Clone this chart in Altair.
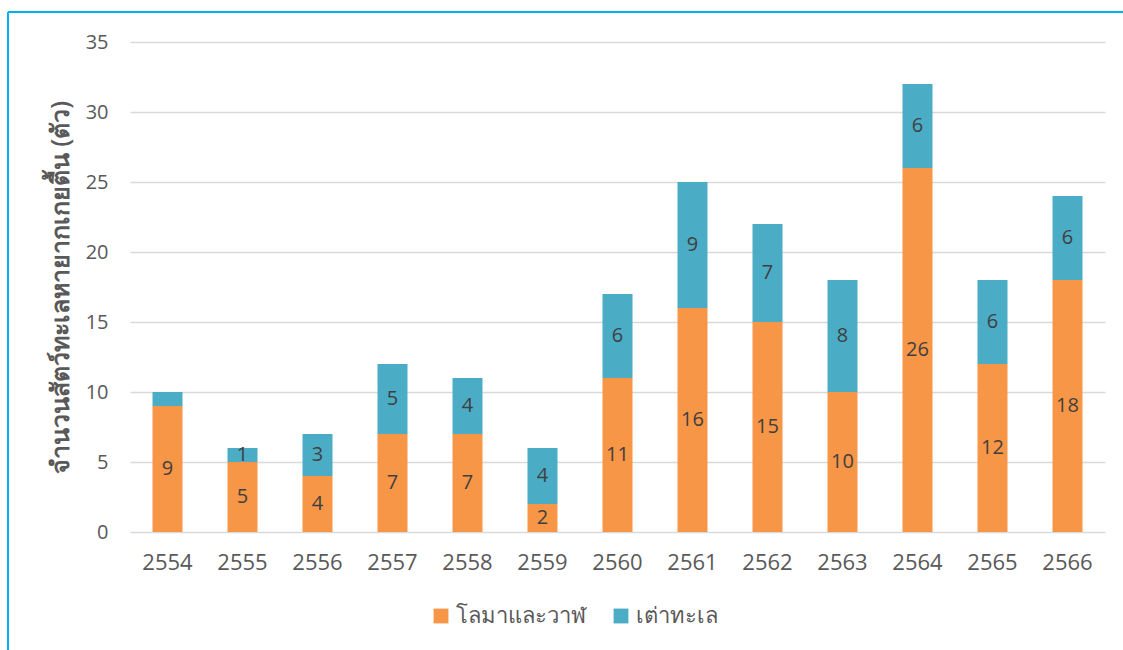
import altair as alt
import pandas as pd

years = ["2554", "2555", "2556", "2557", "2558", "2559", "2560",
         "2561", "2562", "2563", "2564", "2565", "2566"]
dolphins_whales = [9, 5, 4, 7, 7, 2, 11, 16, 15, 10, 26, 12, 18]
sea_turtles = [1, 1, 3, 5, 4, 4, 6, 9, 7, 8, 6, 6, 6]
series_names = ["โลมาและวาฬ", "เต่าทะเล"]
series_colors = ["#F79646", "#4BACC6"]
hidden_labels = [("2554", "เต่าทะเล")]

rows = []
for i, y in enumerate(years):
    rows.append({"year": y, "series": series_names[0], "value": dolphins_whales[i], "ord": 0,
                 "show": (y, series_names[0]) not in hidden_labels})
    rows.append({"year": y, "series": series_names[1], "value": sea_turtles[i], "ord": 1,
                 "show": (y, series_names[1]) not in hidden_labels})
df = pd.DataFrame(rows)

FONT = "Open Sans"

base = alt.Chart(df).transform_stack(
    stack="value", groupby=["year"], as_=["v0", "v1"], sort=[alt.SortField("ord", "ascending")]
).transform_calculate(mid="(datum.v0 + datum.v1) / 2")

x = alt.X("year:N", sort=years, title=None,
          scale=alt.Scale(paddingInner=0.6, paddingOuter=0.3),
          axis=alt.Axis(labelFontSize=22, labelColor="#595959", labelPadding=20,
                        ticks=False, domain=False, labelAngle=0, labelFont=FONT))

bars = base.mark_bar().encode(
    x=x,
    y=alt.Y("v0:Q", title="จำนวนสัตว์ทะเลหายากเกยตื้น (ตัว)",
            scale=alt.Scale(domain=[0, 35]),
            axis=alt.Axis(values=[0, 5, 10, 15, 20, 25, 30, 35], labelFontSize=20,
                          labelColor="#595959", labelPadding=22, ticks=False, domain=False,
                          gridColor="#D9D9D9", gridWidth=1.5, titleFontSize=25,
                          titleColor="#595959", titleFontWeight=600, titlePadding=12,
                          labelFont=FONT, titleFont=FONT)),
    y2="v1:Q",
    color=alt.Color("series:N", sort=series_names,
                    scale=alt.Scale(domain=series_names, range=series_colors),
                    legend=alt.Legend(title=None, orient="none", direction="horizontal",
                                      legendX=300, legendY=563, symbolType="square",
                                      symbolSize=220, symbolStrokeWidth=0, labelFontSize=22,
                                      labelColor="#595959", columnPadding=24, labelFont=FONT)),
)

labels = base.transform_filter("datum.show").mark_text(
    fontSize=20, color="#404040", font=FONT, baseline="middle"
).encode(x=alt.X("year:N", sort=years), y=alt.Y("mid:Q"), text="value:Q")

border_left = alt.Chart(pd.DataFrame({"a": [0]})).mark_rule(color="#00B0F0", strokeWidth=2).encode(
    x=alt.value(-122), y=alt.value(-30), y2=alt.value(620))
border_top = alt.Chart(pd.DataFrame({"a": [0]})).mark_rule(color="#00B0F0", strokeWidth=2).encode(
    x=alt.value(-122), x2=alt.value(1000), y=alt.value(-30))

chart = alt.layer(bars, labels, border_left, border_top).properties(
    width=975, height=490,
    autosize=alt.AutoSizeParams(type="none"),
    padding={"left": 130, "top": 42, "right": 18, "bottom": 118},
).configure_view(stroke=None)

chart.save("out.html", embed_options={"renderer": "svg", "actions": False})
